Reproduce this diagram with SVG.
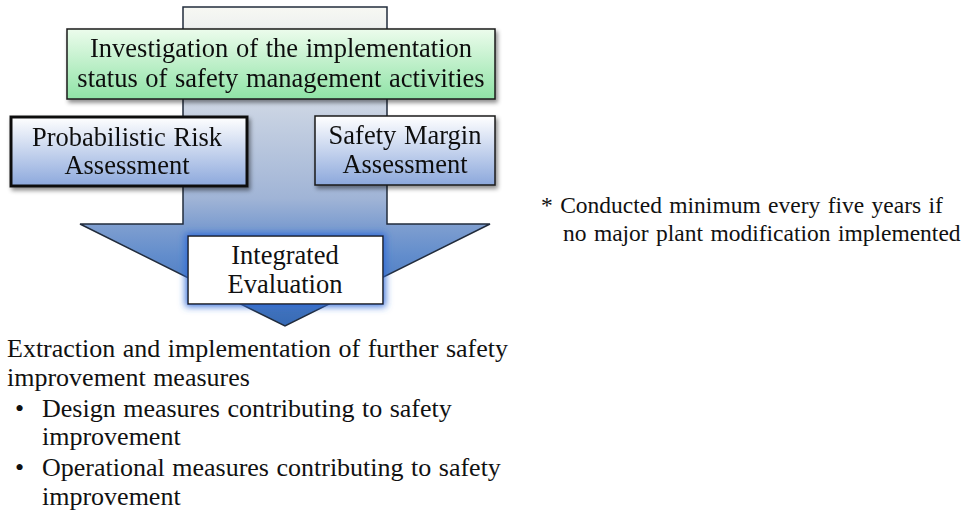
<svg xmlns="http://www.w3.org/2000/svg" width="964" height="510" viewBox="0 0 964 510">
  <style>
    text { font-family: "Liberation Serif", "Times New Roman", serif; fill: #111; }
    .lbl { font-size: 26.5px; text-anchor: middle; word-spacing: 1px; }
    .body { font-size: 26px; word-spacing: 1px; }
    .note { font-size: 23.5px; word-spacing: 1.5px; }
    .box { stroke: #1a1a1a; stroke-width: 1.5; }
  </style>
  <defs>
    <linearGradient id="arrowFill" gradientUnits="userSpaceOnUse" x1="0" y1="7" x2="0" y2="326">
      <stop offset="0" stop-color="#f7f8f3"/>
      <stop offset="0.3" stop-color="#cdd6e4"/>
      <stop offset="0.6" stop-color="#a0b4d6"/>
      <stop offset="0.68" stop-color="#809fd0"/>
      <stop offset="0.78" stop-color="#628dcc"/>
      <stop offset="1" stop-color="#366ab6"/>
    </linearGradient>
    <linearGradient id="greenFill" x1="0" y1="0" x2="0" y2="1">
      <stop offset="0" stop-color="#ecfcec"/>
      <stop offset="1" stop-color="#8fe3a6"/>
    </linearGradient>
    <linearGradient id="blueFill" x1="0" y1="0" x2="0" y2="1">
      <stop offset="0" stop-color="#ffffff"/>
      <stop offset="1" stop-color="#8ca8dc"/>
    </linearGradient>
    <filter id="shadow" x="-10%" y="-20%" width="125%" height="150%">
      <feDropShadow dx="2" dy="3" stdDeviation="2" flood-color="#000" flood-opacity="0.45"/>
    </filter>
    <filter id="glow" x="-20%" y="-30%" width="140%" height="160%">
      <feMorphology in="SourceAlpha" operator="dilate" radius="2" result="grown"/>
      <feGaussianBlur in="grown" stdDeviation="3.5" result="blur"/>
      <feFlood flood-color="#2f6ad8" flood-opacity="0.9"/>
      <feComposite in2="blur" operator="in" result="halo"/>
      <feMerge>
        <feMergeNode in="halo"/>
        <feMergeNode in="SourceGraphic"/>
      </feMerge>
    </filter>
  </defs>

  <!-- Large downward flow arrow -->
  <g id="connectors">
    <path d="M183,7 H387 V224 H490 L285,326 L80,224 H183 Z" fill="url(#arrowFill)" stroke="#222c3c" stroke-width="1.5" stroke-linejoin="miter"/>
  </g>

  <g id="investigation" filter="url(#shadow)">
    <rect class="box" x="67" y="29" width="428" height="70" fill="url(#greenFill)"/>
    <text class="lbl" x="281" y="57">Investigation of the implementation</text>
    <text class="lbl" x="281" y="87">status of safety management activities</text>
  </g>

  <g id="pra" filter="url(#shadow)">
    <rect x="11" y="117" width="236" height="69" fill="url(#blueFill)" stroke="#111" stroke-width="3"/>
    <text class="lbl" x="127" y="146">Probabilistic Risk</text>
    <text class="lbl" x="127" y="174">Assessment</text>
  </g>

  <g id="safety-margin" filter="url(#shadow)">
    <rect class="box" x="315" y="116" width="180" height="69" fill="url(#blueFill)"/>
    <text class="lbl" x="405" y="144">Safety Margin</text>
    <text class="lbl" x="405" y="173">Assessment</text>
  </g>

  <g id="integrated-evaluation">
    <rect class="box" x="188" y="236" width="195" height="68" fill="#fff" filter="url(#glow)"/>
    <text class="lbl" x="285" y="264">Integrated</text>
    <text class="lbl" x="285" y="293">Evaluation</text>
  </g>

  <g id="outcome">
    <text class="body" x="7" y="357">Extraction and implementation of further safety</text>
    <text class="body" x="7" y="386">improvement measures</text>
    <text class="body" x="15" y="417">•</text>
    <text class="body" x="42" y="417">Design measures contributing to safety</text>
    <text class="body" x="42" y="445">improvement</text>
    <text class="body" x="15" y="476">•</text>
    <text class="body" x="42" y="476">Operational measures contributing to safety</text>
    <text class="body" x="42" y="505">improvement</text>
  </g>

  <g id="footnote">
    <text class="note" x="541" y="213">* Conducted minimum every five years if</text>
    <text class="note" x="563" y="241">no major plant modification implemented</text>
  </g>
</svg>
